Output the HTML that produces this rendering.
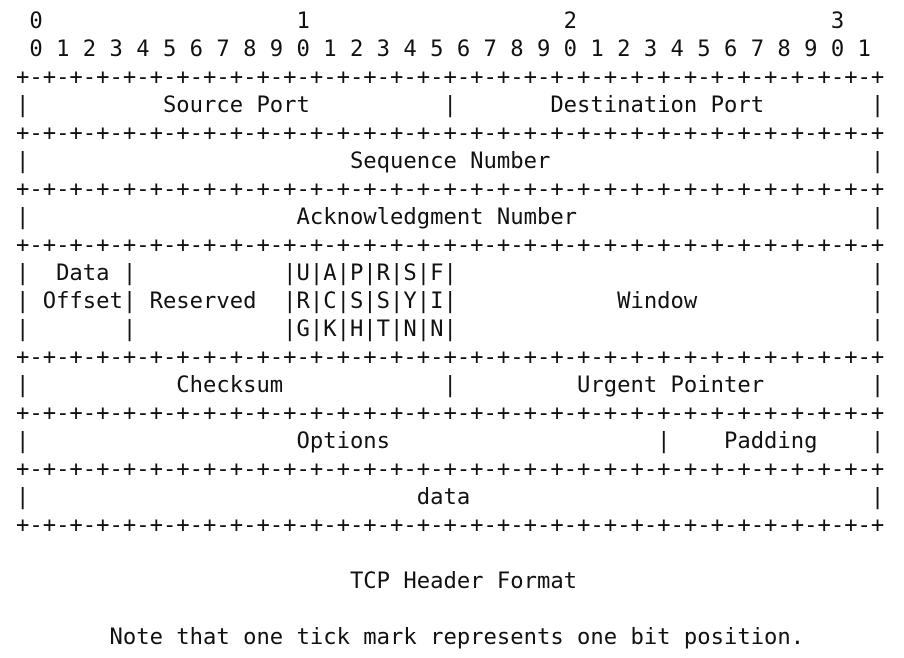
<!DOCTYPE html>
<html><head><meta charset="utf-8"><style>
html,body{margin:0;padding:0;background:#fff;width:904px;height:658px;overflow:hidden}
pre{margin:0;position:absolute;left:16px;top:7px;font-family:"DejaVu Sans Mono","Liberation Mono",monospace;font-size:22.2px;line-height:28px;color:#111}
</style></head><body><pre> 0                   1                   2                   3
 0 1 2 3 4 5 6 7 8 9 0 1 2 3 4 5 6 7 8 9 0 1 2 3 4 5 6 7 8 9 0 1
+-+-+-+-+-+-+-+-+-+-+-+-+-+-+-+-+-+-+-+-+-+-+-+-+-+-+-+-+-+-+-+-+
|          Source Port          |       Destination Port        |
+-+-+-+-+-+-+-+-+-+-+-+-+-+-+-+-+-+-+-+-+-+-+-+-+-+-+-+-+-+-+-+-+
|                        Sequence Number                        |
+-+-+-+-+-+-+-+-+-+-+-+-+-+-+-+-+-+-+-+-+-+-+-+-+-+-+-+-+-+-+-+-+
|                    Acknowledgment Number                      |
+-+-+-+-+-+-+-+-+-+-+-+-+-+-+-+-+-+-+-+-+-+-+-+-+-+-+-+-+-+-+-+-+
|  Data |           |U|A|P|R|S|F|                               |
| Offset| Reserved  |R|C|S|S|Y|I|            Window             |
|       |           |G|K|H|T|N|N|                               |
+-+-+-+-+-+-+-+-+-+-+-+-+-+-+-+-+-+-+-+-+-+-+-+-+-+-+-+-+-+-+-+-+
|           Checksum            |         Urgent Pointer        |
+-+-+-+-+-+-+-+-+-+-+-+-+-+-+-+-+-+-+-+-+-+-+-+-+-+-+-+-+-+-+-+-+
|                    Options                    |    Padding    |
+-+-+-+-+-+-+-+-+-+-+-+-+-+-+-+-+-+-+-+-+-+-+-+-+-+-+-+-+-+-+-+-+
|                             data                              |
+-+-+-+-+-+-+-+-+-+-+-+-+-+-+-+-+-+-+-+-+-+-+-+-+-+-+-+-+-+-+-+-+

                         TCP Header Format

       Note that one tick mark represents one bit position.</pre></body></html>
